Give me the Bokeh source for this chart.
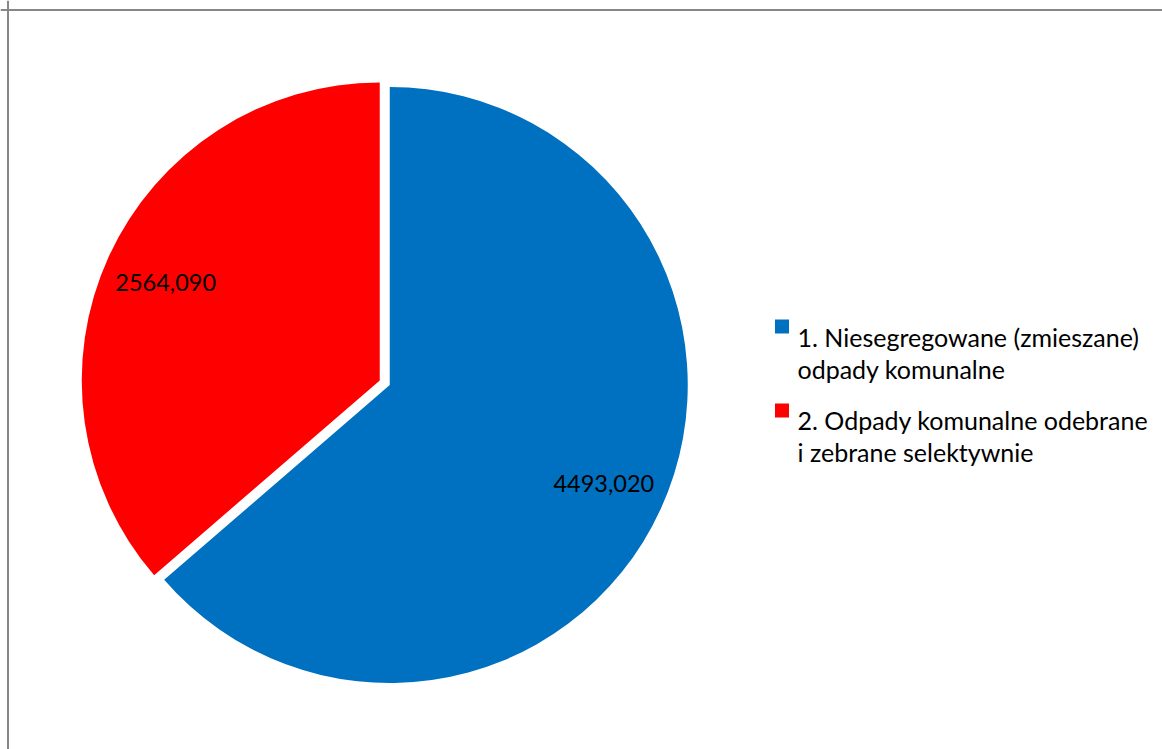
import numpy as np
from bokeh.plotting import figure
from bokeh.models import Range1d, Span, ColumnDataSource
from bokeh.core.properties import value
from bokeh.embed import file_html
from bokeh.resources import INLINE

# ---- data ----
categories = ["1. Niesegregowane (zmieszane) odpady komunalne",
              "2. Odpady komunalne odebrane i  zebrane selektywnie"]
legend_line1 = ["1. Niesegregowane (zmieszane)", "2. Odpady komunalne odebrane"]
legend_line2 = ["odpady komunalne", "i  zebrane selektywnie"]
values = [4493.020, 2564.090]
value_labels = ["4493,020", "2564,090"]
colors = ["#0070C0", "#FF0000"]

# ---- layout (pixels; data units map 1:1 to pixels) ----
W, H = 1162, 749
CX, CY = 384.25, 366.75
R = 298
EXPLODE = 5.5
LABEL_FRAC = 0.79
FONT = "Lato"

vals = np.array(values, dtype=float)
frac = vals / vals.sum()
ends = np.pi / 2 - np.concatenate([[0.0], np.cumsum(frac)[:-1]]) * 2 * np.pi
starts = ends - frac * 2 * np.pi
mids = (starts + ends) / 2
cx = CX + EXPLODE * np.cos(mids)
cy = CY + EXPLODE * np.sin(mids)
lx = cx + LABEL_FRAC * R * np.cos(mids)
ly = cy + LABEL_FRAC * R * np.sin(mids)

src = ColumnDataSource(dict(cx=cx, cy=cy, start=starts, end=ends, color=colors,
                            lx=lx, ly=ly, lab=value_labels, cat=categories))

p = figure(width=W, height=H, output_backend="svg", toolbar_location=None,
           x_range=Range1d(0, W), y_range=Range1d(0, H),
           min_border=0, min_border_left=0, min_border_right=0,
           min_border_top=0, min_border_bottom=0)
p.axis.visible = False
p.grid.visible = False
p.outline_line_color = None
p.background_fill_color = "white"
p.border_fill_color = "white"

p.wedge(x="cx", y="cy", radius=R, start_angle="start", end_angle="end",
        fill_color="color", line_color=None, source=src)

p.text(x="lx", y="ly", text="lab", text_align="center", text_baseline="middle",
       text_font=value(FONT), text_font_size=value("23.5px"), text_color="#000000",
       source=src)

# legend
n = len(categories)
leg_sq_x = [781.5] * n
leg_sq_y = [423 - 84 * i for i in range(n)]
leg_tx = [797] * n
leg_l1_y = [413 - 83 * i for i in range(n)]
leg_l2_y = [381 - 83 * i for i in range(n)]
p.rect(x=leg_sq_x, y=leg_sq_y, width=14, height=14, fill_color=colors, line_color=None)
p.text(x=leg_tx, y=leg_l1_y, text=legend_line1, text_align="left", text_baseline="alphabetic",
       text_font=value(FONT), text_font_size=value("25px"), text_color="#000000")
p.text(x=leg_tx, y=leg_l2_y, text=legend_line2, text_align="left", text_baseline="alphabetic",
       text_font=value(FONT), text_font_size=value("25px"), text_color="#000000")

# chart border (top and left visible; right/bottom lie beyond the window)
p.add_layout(Span(location=p.x_range.start + 7.5, dimension="height", line_color="#878787", line_width=2))
p.add_layout(Span(location=p.y_range.end - 9.5, dimension="width", line_color="#878787", line_width=2))

open("out.html", "w").write(file_html(p, INLINE))
